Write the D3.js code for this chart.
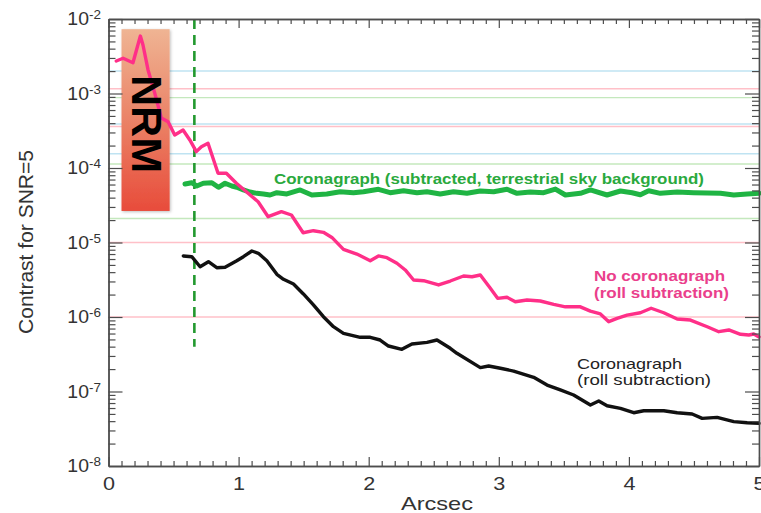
<!DOCTYPE html>
<html>
<head>
<meta charset="utf-8">
<script src="https://cdn.jsdelivr.net/npm/d3@7"></script>
<style>
  body { margin: 0; background: #fff; }
  svg { display: block; font-family: "Liberation Sans", Arial, Helvetica, sans-serif; }
</style>
</head>
<body>
<svg id="chart" width="761" height="513"></svg>
<script>
// ---- Data ----------------------------------------------------------------
const xTickLabels = [0, 1, 2, 3, 4, 5];
const yDecades = [-8, -7, -6, -5, -4, -3, -2];

// No coronagraph (roll subtraction)
const noCoronaX = [0.06, 0.112, 0.188, 0.245, 0.265, 0.304, 0.355, 0.406, 0.458, 0.509, 0.573, 0.625,
  0.675, 0.714, 0.765, 0.842, 0.906, 0.983, 1.073, 1.150, 1.227, 1.329, 1.406, 1.496, 1.575, 1.652,
  1.717, 1.806, 1.909, 2.012, 2.075, 2.140, 2.217, 2.281, 2.345, 2.422, 2.537, 2.627, 2.729, 2.794,
  2.858, 2.935, 2.991, 3.063, 3.127, 3.217, 3.319, 3.422, 3.512, 3.627, 3.704, 3.781, 3.845, 3.909,
  3.986, 4.088, 4.171, 4.268, 4.371, 4.473, 4.602, 4.691, 4.768, 4.858, 4.922, 4.960, 5.0];
const noCoronaY = [2.73e-3, 2.97e-3, 2.59e-3, 5.91e-3, 4.48e-3, 2.07e-3, 1.02e-3, 4.69e-4, 4.18e-4,
  2.77e-4, 3.24e-4, 2.38e-4, 1.66e-4, 1.93e-4, 2.15e-4, 8.5e-5, 8.5e-5, 6.24e-5, 4.57e-5, 3.53e-5,
  2.22e-5, 2.59e-5, 2.34e-5, 1.35e-5, 1.44e-5, 1.37e-5, 1.17e-5, 8.1e-6, 7.0e-6, 5.7e-6, 6.6e-6,
  6.25e-6, 5.26e-6, 4.28e-6, 3.14e-6, 3.07e-6, 2.69e-6, 3.04e-6, 3.55e-6, 3.47e-6, 3.66e-6, 2.43e-6,
  1.78e-6, 1.84e-6, 1.60e-6, 1.69e-6, 1.64e-6, 1.48e-6, 1.37e-6, 1.37e-6, 1.20e-6, 1.10e-6, 8.65e-7,
  9.6e-7, 1.06e-6, 1.14e-6, 1.31e-6, 1.14e-6, 9.4e-7, 9.1e-7, 7.4e-7, 6.35e-7, 6.7e-7, 5.86e-7,
  5.73e-7, 5.91e-7, 5.4e-7];

// Coronagraph (roll subtraction)
const coronaRollX = [0.575, 0.640, 0.704, 0.768, 0.832, 0.896, 0.986, 1.037, 1.102, 1.152, 1.217,
  1.294, 1.345, 1.422, 1.498, 1.575, 1.652, 1.729, 1.806, 1.935, 2.012, 2.088, 2.152, 2.255, 2.332,
  2.448, 2.525, 2.627, 2.678, 2.858, 2.922, 3.012, 3.114, 3.268, 3.371, 3.473, 3.575, 3.704, 3.768,
  3.832, 3.935, 4.037, 4.114, 4.268, 4.371, 4.486, 4.563, 4.678, 4.806, 4.909, 5.0];
const coronaRollY = [6.59e-6, 6.45e-6, 4.73e-6, 5.52e-6, 4.59e-6, 4.65e-6, 5.70e-6, 6.45e-6, 7.69e-6,
  7.16e-6, 5.70e-6, 3.74e-6, 3.21e-6, 2.77e-6, 2.04e-6, 1.45e-6, 1.01e-6, 7.41e-7, 6.04e-7, 5.34e-7,
  5.34e-7, 4.91e-7, 4.08e-7, 3.68e-7, 4.34e-7, 4.57e-7, 4.91e-7, 3.80e-7, 3.26e-7, 2.09e-7, 2.20e-7,
  2.05e-7, 1.88e-7, 1.55e-7, 1.22e-7, 1.05e-7, 8.97e-8, 6.59e-8, 7.45e-8, 6.44e-8, 5.94e-8, 5.19e-8,
  5.52e-8, 5.52e-8, 5.19e-8, 4.99e-8, 4.36e-8, 4.50e-8, 3.94e-8, 3.81e-8, 3.74e-8];

// Coronagraph (subtracted, terrestrial sky background)
const coronaSkyX = [0.588, 0.640, 0.678, 0.729, 0.794, 0.845, 0.896, 0.948, 0.986, 1.037, 1.088,
  1.140, 1.191, 1.242, 1.294, 1.371, 1.473, 1.563, 1.678, 1.781, 1.883, 1.960, 2.075, 2.165, 2.268,
  2.371, 2.448, 2.550, 2.652, 2.755, 2.858, 2.960, 3.063, 3.140, 3.242, 3.345, 3.435, 3.512, 3.627,
  3.704, 3.832, 3.935, 4.025, 4.088, 4.152, 4.242, 4.371, 4.498, 4.704, 4.806, 4.909, 5.0];
const coronaSkyY = [6.10e-5, 6.35e-5, 5.73e-5, 6.24e-5, 6.35e-5, 5.51e-5, 6.24e-5, 5.73e-5, 5.51e-5,
  5.07e-5, 4.76e-5, 4.57e-5, 4.48e-5, 4.34e-5, 4.66e-5, 4.48e-5, 5.07e-5, 4.34e-5, 4.48e-5, 4.81e-5,
  4.66e-5, 4.81e-5, 5.18e-5, 4.66e-5, 4.95e-5, 4.66e-5, 4.81e-5, 4.48e-5, 4.81e-5, 4.57e-5, 4.91e-5,
  4.81e-5, 5.18e-5, 4.57e-5, 4.76e-5, 4.66e-5, 5.22e-5, 4.34e-5, 4.57e-5, 5.07e-5, 4.34e-5, 4.91e-5,
  4.66e-5, 4.38e-5, 4.95e-5, 4.57e-5, 4.76e-5, 4.66e-5, 4.57e-5, 4.34e-5, 4.48e-5, 4.57e-5];

// Horizontal contrast reference levels and their colour groups
const refLevels = [2.0e-3, 1.16e-3, 8.8e-4, 3.9e-4, 3.6e-4, 1.55e-4, 1.13e-4, 2.1e-5, 1.0e-5, 1.0e-6];
const refGroups = ["blue", "red", "green", "blue", "red", "blue", "green", "green", "red", "red"];

// Inner working angle marker and NRM regime
const iwaX = 0.66;
const iwaYRange = [1e-2, 4e-7];
const nrmXRange = [0.1, 0.47];
const nrmYRange = [7.3e-3, 2.65e-5];

// ---- Layout --------------------------------------------------------------
const W = 761, H = 513;
const margin = { left: 108.5, right: 2, top: 19, bottom: 47 };
const svg = d3.select("#chart");

const x = d3.scaleLinear().domain([0, 5]).range([margin.left, W - margin.right]);
const y = d3.scaleLog().domain([1e-8, 1e-2]).range([H - margin.bottom, margin.top]);

const axisColor = "#4d4d4d";
const refColors = { blue: "#bfe3f2", red: "#ffc0c8", green: "#c4e8bd" };

// NRM regime box
const defs = svg.append("defs");
const grad = defs.append("linearGradient").attr("id", "nrmGrad")
  .attr("x1", 0).attr("y1", 0).attr("x2", 0).attr("y2", 1);
grad.append("stop").attr("offset", "0%").attr("stop-color", "#efb493");
grad.append("stop").attr("offset", "55%").attr("stop-color", "#ea7d62");
grad.append("stop").attr("offset", "100%").attr("stop-color", "#e84c3b");
const shadow = defs.append("filter").attr("id", "soft").attr("x", "-20%").attr("y", "-10%")
  .attr("width", "140%").attr("height", "120%");
shadow.append("feDropShadow").attr("dx", 1).attr("dy", 1).attr("stdDeviation", 1.5)
  .attr("flood-color", "#000").attr("flood-opacity", 0.25);

// Reference levels
svg.append("g").selectAll("line").data(refLevels).join("line")
  .attr("x1", x(0)).attr("x2", x(5))
  .attr("y1", d => y(d)).attr("y2", d => y(d))
  .attr("stroke", (d, i) => refColors[refGroups[i]])
  .attr("stroke-width", 1.4);

svg.append("rect")
  .attr("x", x(nrmXRange[0])).attr("y", y(nrmYRange[0]))
  .attr("width", x(nrmXRange[1]) - x(nrmXRange[0]))
  .attr("height", y(nrmYRange[1]) - y(nrmYRange[0]))
  .attr("fill", "url(#nrmGrad)")
  .attr("filter", "url(#soft)");

// Inner working angle
svg.append("line")
  .attr("x1", x(iwaX)).attr("x2", x(iwaX))
  .attr("y1", y(iwaYRange[0])).attr("y2", y(iwaYRange[1]))
  .attr("stroke", "#23992f").attr("stroke-width", 2.6)
  .attr("stroke-dasharray", "10,6");

// Curves
const line = d3.line().x(d => x(d[0])).y(d => y(d[1]));
function drawCurve(xs, ys, color, width) {
  svg.append("path")
    .datum(d3.zip(xs, ys))
    .attr("d", line)
    .attr("fill", "none")
    .attr("stroke", color)
    .attr("stroke-width", width)
    .attr("stroke-linejoin", "round")
    .attr("stroke-linecap", "round");
}
drawCurve(coronaSkyX, coronaSkyY, "#1fb443", 5);
drawCurve(noCoronaX, noCoronaY, "#ff2f88", 3.4);
drawCurve(coronaRollX, coronaRollY, "#111", 3.4);

// NRM label
const nrmCx = (x(nrmXRange[0]) + x(nrmXRange[1])) / 2;
svg.append("text")
  .attr("transform", `translate(${nrmCx - 14},124) rotate(90)`)
  .attr("text-anchor", "middle")
  .attr("font-size", 43).attr("font-weight", "bold").attr("fill", "#000")
  .text("NRM");

// ---- Axes ----------------------------------------------------------------
function styleAxis(g) {
  g.attr("font-family", null).attr("font-size", null);
  g.selectAll("path.domain").attr("stroke", axisColor).attr("stroke-width", 1.4);
  g.selectAll(".tick line").attr("stroke", axisColor).attr("stroke-width", 1.2);
  g.selectAll(".tick text").attr("fill", "#333").attr("font-size", 18);
  return g;
}

const xMinor = d3.range(0, 51).map(i => i / 10).filter(v => Math.abs(v - Math.round(v)) > 1e-9);
const yMajor = yDecades.map(p => Math.pow(10, p));
const yMinor = [];
yDecades.slice(0, -1).forEach(p => { for (let m = 2; m <= 9; m++) yMinor.push(m * Math.pow(10, p)); });

const bottomY = H - margin.bottom, topY = margin.top;
const leftX = margin.left, rightX = W - margin.right;

// bottom
styleAxis(svg.append("g").attr("transform", `translate(0,${bottomY})`)
  .call(d3.axisBottom(x).tickValues(xMinor).tickSizeInner(-5).tickSizeOuter(0).tickFormat("")));
const xAxisG = styleAxis(svg.append("g").attr("transform", `translate(0,${bottomY})`)
  .call(d3.axisBottom(x).tickValues(xTickLabels).tickSizeInner(-9).tickSizeOuter(0)
    .tickPadding(11).tickFormat(d3.format("d"))));
xAxisG.selectAll(".tick text").attr("transform", "scale(1.2,1)");
// top
styleAxis(svg.append("g").attr("transform", `translate(0,${topY})`)
  .call(d3.axisTop(x).tickValues(xMinor).tickSizeInner(-5).tickSizeOuter(0).tickFormat("")));
styleAxis(svg.append("g").attr("transform", `translate(0,${topY})`)
  .call(d3.axisTop(x).tickValues(xTickLabels).tickSizeInner(-9).tickSizeOuter(0).tickFormat("")));
// left
styleAxis(svg.append("g").attr("transform", `translate(${leftX},0)`)
  .call(d3.axisLeft(y).tickValues(yMinor).tickSizeInner(-7).tickSizeOuter(0).tickFormat("")));
const yAxisG = styleAxis(svg.append("g").attr("transform", `translate(${leftX},0)`)
  .call(d3.axisLeft(y).tickValues(yMajor).tickSizeInner(-14).tickSizeOuter(0)
    .tickPadding(7).tickFormat(() => "")));
yAxisG.selectAll(".tick text").each(function (d) {
  const t = d3.select(this);
  t.append("tspan").text("10");
  t.append("tspan").attr("dy", "-0.5em").attr("font-size", 12.5)
    .text(String(Math.round(Math.log10(d))));
});
yAxisG.selectAll(".tick text").attr("transform", "scale(1.08,1)");
// right
styleAxis(svg.append("g").attr("transform", `translate(${rightX},0)`)
  .call(d3.axisRight(y).tickValues(yMinor).tickSizeInner(-7).tickSizeOuter(0).tickFormat("")));
styleAxis(svg.append("g").attr("transform", `translate(${rightX},0)`)
  .call(d3.axisRight(y).tickValues(yMajor).tickSizeInner(-14).tickSizeOuter(0).tickFormat("")));

// Axis titles
svg.append("text")
  .attr("x", 437).attr("y", 510)
  .attr("text-anchor", "middle").attr("font-size", 19).attr("fill", "#333")
  .attr("textLength", 72).attr("lengthAdjust", "spacingAndGlyphs")
  .text("Arcsec");
svg.append("text")
  .attr("transform", "translate(33,242) rotate(-90)")
  .attr("text-anchor", "middle").attr("font-size", 20).attr("fill", "#333")
  .attr("textLength", 184).attr("lengthAdjust", "spacingAndGlyphs")
  .text("Contrast for SNR=5");

// Curve labels
function label(txt, lx, ly, len, color, weight, size) {
  svg.append("text")
    .attr("x", lx).attr("y", ly)
    .attr("font-size", size).attr("font-weight", weight).attr("fill", color)
    .attr("textLength", len).attr("lengthAdjust", "spacingAndGlyphs")
    .text(txt);
}
label("Coronagraph (subtracted, terrestrial sky background)", 274, 184, 430, "#2aa93d", "bold", 15.5);
label("No coronagraph", 594, 281, 131, "#ea3f8c", "bold", 14.5);
label("(roll subtraction)", 594, 298, 135, "#ea3f8c", "bold", 14.5);
label("Coronagraph", 577, 369, 105, "#222", "normal", 14.5);
label("(roll subtraction)", 577, 385, 134, "#222", "normal", 14.5);
</script>
</body>
</html>
